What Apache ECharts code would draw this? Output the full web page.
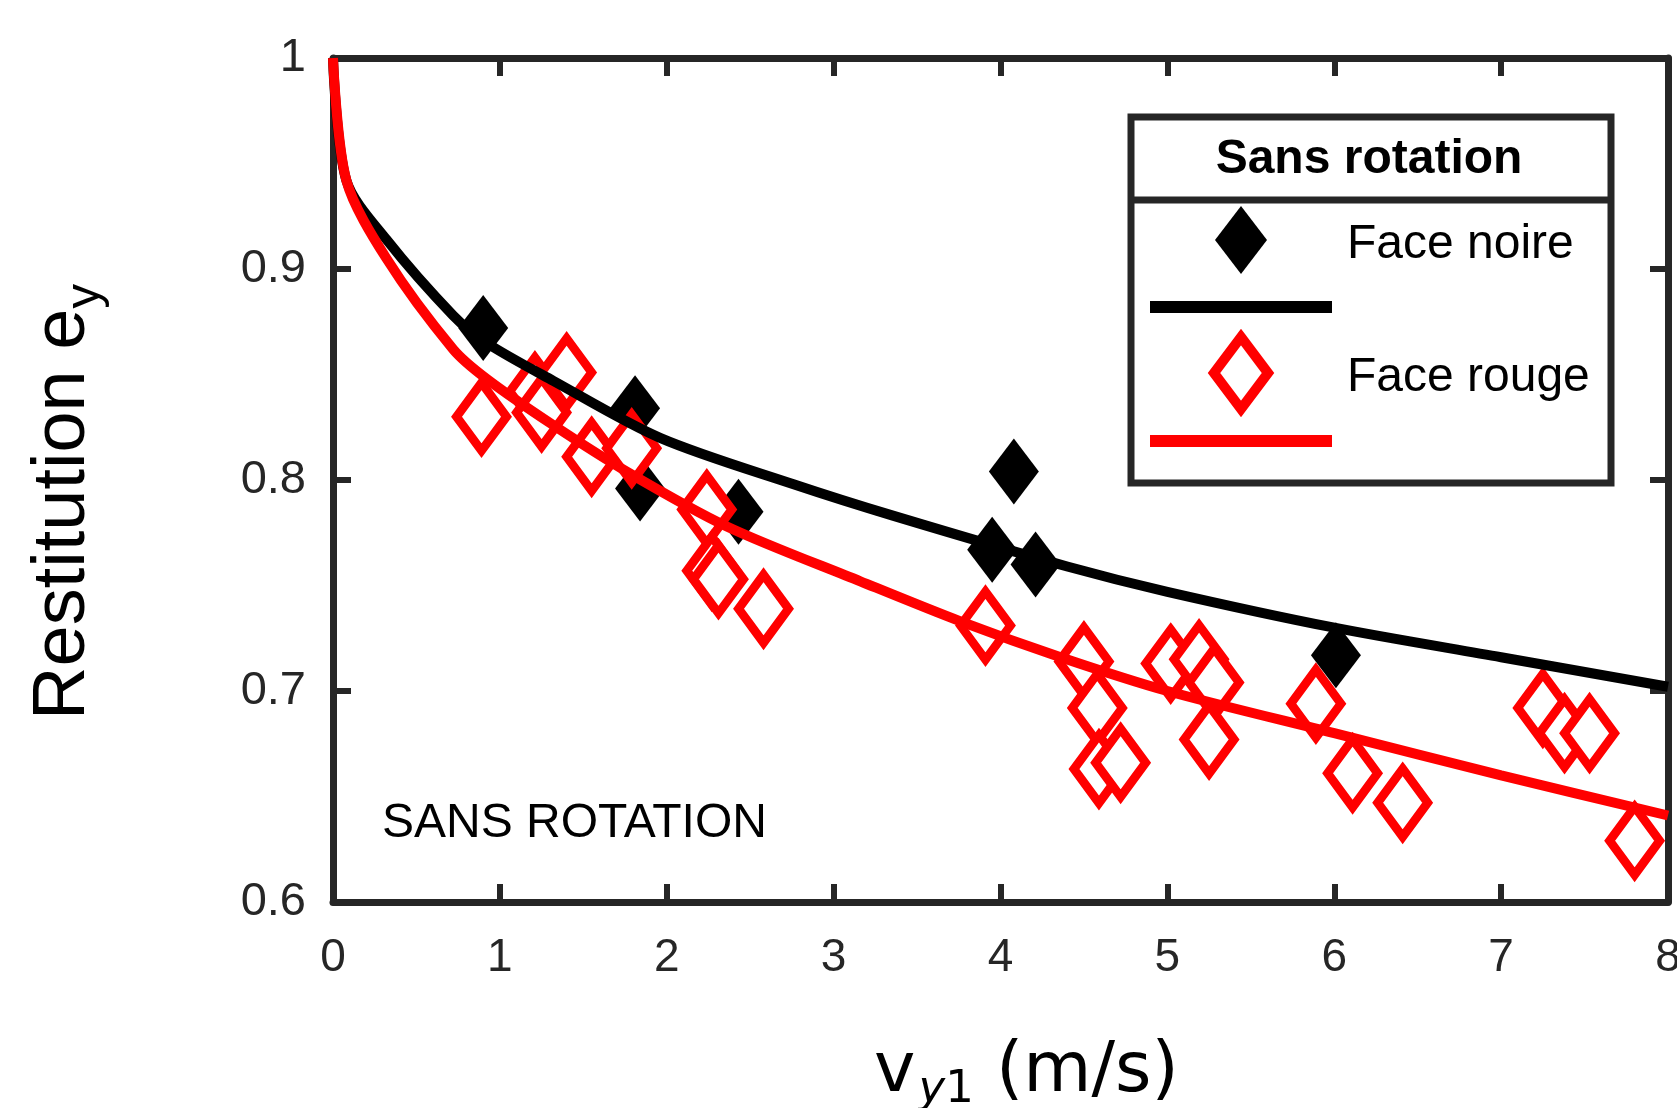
<!DOCTYPE html>
<html>
<head>
<meta charset="utf-8">
<script src="https://cdn.jsdelivr.net/npm/echarts@6/dist/echarts.min.js"></script>
<style>
html,body{margin:0;padding:0;background:#fff;overflow:hidden;}
#chart{width:1677px;height:1108px;}
</style>
</head>
<body>
<div id="chart"></div>
<script>
// ---- data ----
const xTicks = [0, 1, 2, 3, 4, 5, 6, 7, 8];
const yTicks = [0.6, 0.7, 0.8, 0.9, 1];

const faceNoire = [
  [0.90, 0.872], [1.81, 0.834], [1.84, 0.796], [2.43, 0.785],
  [3.95, 0.767], [4.08, 0.804], [4.21, 0.760], [6.01, 0.717]
];

const faceRouge = [
  [0.89, 0.830], [1.21, 0.842], [1.25, 0.832], [1.40, 0.851], [1.55, 0.811],
  [1.79, 0.815], [2.24, 0.786], [2.27, 0.757], [2.31, 0.753], [2.58, 0.739],
  [3.91, 0.731], [4.50, 0.714], [4.58, 0.692], [4.59, 0.663], [4.72, 0.666],
  [5.02, 0.713], [5.19, 0.715], [5.28, 0.704], [5.25, 0.677], [5.89, 0.694],
  [6.11, 0.661], [6.41, 0.647], [7.25, 0.692], [7.38, 0.680], [7.53, 0.680],
  [7.80, 0.629]
];

const fitNoire = [
  [0, 1], [0.08, 0.942], [0.32, 0.914], [0.72, 0.878], [0.92, 0.865],
  [1.32, 0.847], [1.96, 0.820], [2.76, 0.798], [3.36, 0.783],
  [4.4, 0.759], [5, 0.747], [6, 0.730], [7, 0.716], [8, 0.702]
];

const fitRouge = [
  [0, 1], [0.08, 0.942], [0.32, 0.905], [0.72, 0.862], [0.92, 0.848],
  [1.32, 0.826], [1.76, 0.804], [2.36, 0.778], [3.16, 0.752], [3.76, 0.733],
  [4.36, 0.716], [5, 0.700], [6, 0.680], [7, 0.660], [8, 0.641]
];

const legendTitle = 'Sans rotation';
const legendNames = ['Face noire', 'Face rouge'];
const annotation = 'SANS ROTATION';

// ---- chart ----
const FONT = '"Liberation Sans", Arial, Helvetica, sans-serif';
const DJ = '"DejaVu Sans", Verdana, sans-serif';
const AX = '#262626';
const chart = echarts.init(document.getElementById('chart'), null, {renderer: 'canvas'});

function axisBase(extra) {
  return Object.assign({
    type: 'value',
    axisLine: {show: true, onZero: false, lineStyle: {color: AX, width: 7}},
    axisTick: {show: true, inside: true, length: 18, lineStyle: {color: AX, width: 6}},
    splitLine: {show: false},
    axisLabel: {show: false}
  }, extra);
}

const option = {
  animation: false,
  backgroundColor: '#ffffff',
  grid: {left: 333, right: 9, top: 58, bottom: 206, containLabel: false, outerBoundsMode: 'none'},
  xAxis: [
    axisBase({
      position: 'bottom', min: xTicks[0], max: xTicks[xTicks.length - 1], interval: 1,
      axisLabel: {show: true, fontSize: 46, color: AX, margin: 33, fontFamily: FONT},
      name: '{m|v}{si|y}{s|1}{m| (m/s)}',
      nameLocation: 'middle',
      nameGap: 136,
      nameTextStyle: {
        padding: [0, 0, 0, 52],
        rich: {
          m: {fontSize: 70, fontFamily: DJ, color: '#000', lineHeight: 70},
          si: {fontSize: 45, fontFamily: DJ, fontStyle: 'italic', color: '#000', lineHeight: 45, padding: [34, 0, 0, 3]},
          s: {fontSize: 45, fontFamily: DJ, color: '#000', lineHeight: 45, padding: [34, 0, 0, 0]}
        }
      }
    }),
    axisBase({position: 'top', min: xTicks[0], max: xTicks[xTicks.length - 1], interval: 1})
  ],
  yAxis: [
    axisBase({
      position: 'left', min: yTicks[0], max: yTicks[yTicks.length - 1], interval: 0.1,
      axisLabel: {show: true, fontSize: 47, color: AX, margin: 27, fontFamily: FONT,
        formatter: v => (Math.round(v * 10) / 10).toString()},
      name: '{m|Restitution e}{s|y}',
      nameLocation: 'middle',
      nameRotate: 90,
      nameGap: 232,
      nameTextStyle: {
        padding: [0, 44, 0, 0],
        rich: {
          m: {fontSize: 74, fontFamily: FONT, color: '#000', lineHeight: 74},
          s: {fontSize: 49, fontFamily: FONT, color: '#000', lineHeight: 49, padding: [42, 0, 0, 0]}
        }
      }
    }),
    axisBase({position: 'right', min: yTicks[0], max: yTicks[yTicks.length - 1], interval: 0.1})
  ],
  series: [
    {
      name: legendNames[0], type: 'scatter', data: faceNoire,
      symbol: 'diamond', symbolSize: [50, 66],
      itemStyle: {color: '#000000', opacity: 1}
    },
    {
      name: 'Fit noire', type: 'line', data: fitNoire, showSymbol: false,
      smooth: 0.3,
      lineStyle: {color: '#000000', width: 10}
    },
    {
      name: legendNames[1], type: 'scatter', data: faceRouge,
      symbol: 'diamond', symbolSize: [50, 68],
      itemStyle: {color: '#ffffff', borderColor: '#ff0000', borderWidth: 9, opacity: 1}
    },
    {
      name: 'Fit rouge', type: 'line', data: fitRouge, showSymbol: false,
      smooth: 0.3,
      lineStyle: {color: '#ff0000', width: 10}
    }
  ],
  graphic: [
    {type: 'text', left: 382, top: 827 - 27, z: 10,
      style: {text: annotation, fontSize: 48, fontFamily: FONT, fill: '#000'}},
    // legend box
    {type: 'rect', shape: {x: 1131, y: 117, width: 480, height: 366}, z: 20,
      style: {fill: '#ffffff', stroke: AX, lineWidth: 7}},
    {type: 'line', shape: {x1: 1131, y1: 200, x2: 1611, y2: 200}, z: 21,
      style: {stroke: AX, lineWidth: 7}},
    {type: 'text', x: 1369, y: 160, z: 21,
      style: {text: legendTitle, fontSize: 48, fontWeight: 'bold', fontFamily: FONT, fill: '#000',
        align: 'center', verticalAlign: 'middle'}},
    {type: 'polygon', z: 21,
      shape: {points: [[1241, 206], [1267, 240], [1241, 274], [1215, 240]]},
      style: {fill: '#000'}},
    {type: 'text', x: 1347, y: 245, z: 21,
      style: {text: legendNames[0], fontSize: 48, fontFamily: FONT, fill: '#000', verticalAlign: 'middle'}},
    {type: 'line', shape: {x1: 1150, y1: 307, x2: 1332, y2: 307}, z: 21,
      style: {stroke: '#000', lineWidth: 12}},
    {type: 'polygon', z: 21,
      shape: {points: [[1241, 337], [1268, 373], [1241, 409], [1214, 373]]},
      style: {fill: '#fff', stroke: '#ff0000', lineWidth: 10}},
    {type: 'text', x: 1347, y: 378, z: 21,
      style: {text: legendNames[1], fontSize: 48, fontFamily: FONT, fill: '#000', verticalAlign: 'middle'}},
    {type: 'line', shape: {x1: 1150, y1: 441, x2: 1332, y2: 441}, z: 21,
      style: {stroke: '#ff0000', lineWidth: 12}}
  ]
};

chart.setOption(option);
</script>
</body>
</html>
